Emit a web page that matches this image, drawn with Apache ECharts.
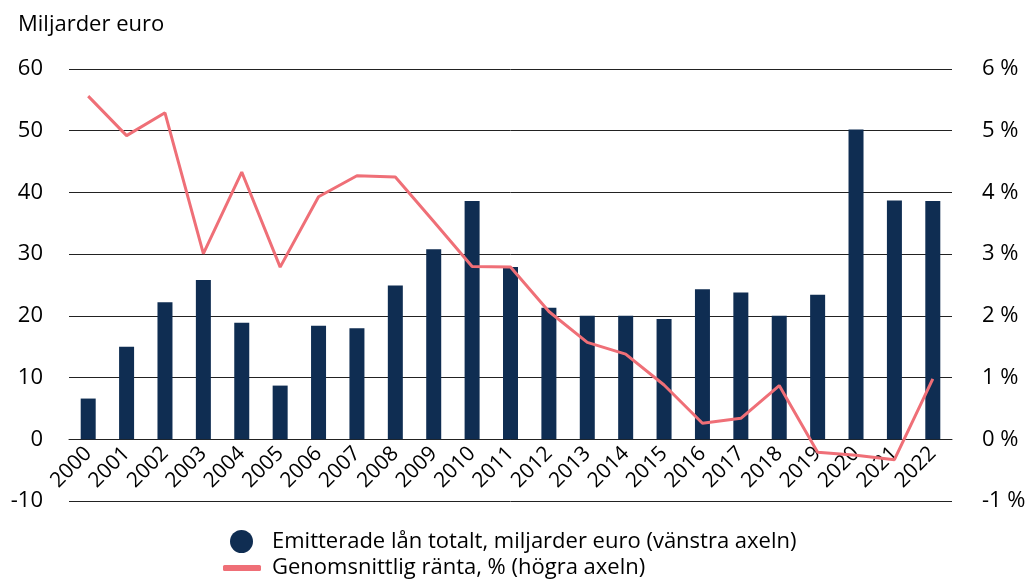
<!DOCTYPE html>
<html lang="sv">
<head>
    <meta charset="UTF-8">
    <title>Emitterade lån</title>
    <script src="https://cdn.jsdelivr.net/npm/echarts@6/dist/echarts.min.js"></script>
    <style>
        html, body { margin: 0; padding: 0; background: #fff; }
        #chart { width: 1025px; height: 581px; }
    </style>
</head>
<body>
    <div id="chart"></div>
<script type="text/javascript">
    // år
    var years = ['2000', '2001', '2002', '2003', '2004', '2005', '2006', '2007', '2008', '2009', '2010', '2011',
        '2012', '2013', '2014', '2015', '2016', '2017', '2018', '2019', '2020', '2021', '2022'];
    // emitterade lån, miljarder euro (vänster axel)
    var loans = [6.6, 15.0, 22.2, 25.8, 18.9, 8.7, 18.4, 18.0, 24.9, 30.8, 38.6, 27.9,
        21.3, 20.0, 20.0, 19.5, 24.3, 23.8, 20.0, 23.4, 50.2, 38.7, 38.6];
    // genomsnittlig ränta, % (höger axel)
    var rate = [5.56, 4.92, 5.29, 3.01, 4.33, 2.79, 3.93, 4.27, 4.25, 3.53, 2.80, 2.79,
        2.07, 1.57, 1.38, 0.88, 0.26, 0.34, 0.87, -0.21, -0.26, -0.33, 0.98];

    var barName = 'Emitterade lån totalt, miljarder euro (vänstra axeln)';
    var lineName = 'Genomsnittlig ränta, % (högra axeln)';
    var font = '"Open Sans", "Noto Sans", sans-serif';

    var chart = echarts.init(document.getElementById('chart'));

    // grid: top 69, bottom 80 -> 432px for 70 units; x-axis sits at 0, 10 units above the bottom
    var gridTop = 69, gridBottom = 80;
    var zeroShift = (581 - gridTop - gridBottom) / 7;

    var option = {
        animation: false,
        textStyle: { fontFamily: font, color: '#000' },
        title: {
            text: 'Miljarder euro',
            left: 13,
            top: 9,
            textStyle: { fontFamily: font, fontSize: 22, fontWeight: 'normal', color: '#000' }
        },
        legend: [
            {
                data: [{ name: barName, icon: 'circle' }],
                orient: 'vertical',
                left: 225,
                top: 525,
                itemWidth: 23,
                itemHeight: 23,
                textStyle: { fontFamily: font, fontSize: 22, color: '#000', padding: [0, 0, 0, 14] }
            },
            {
                data: [{ name: lineName, icon: 'roundRect' }],
                orient: 'vertical',
                left: 218,
                top: 552,
                itemWidth: 38,
                itemHeight: 6,
                textStyle: { fontFamily: font, fontSize: 22, color: '#000', padding: [0, 0, 0, 6] }
            }
        ],
        grid: {
            left: 69,
            right: 73,
            top: gridTop,
            bottom: gridBottom,
            outerBoundsMode: 'none'
        },
        xAxis: {
            type: 'category',
            data: years,
            offset: -zeroShift,
            axisLine: { onZero: false, lineStyle: { color: '#222', width: 1 } },
            axisTick: { show: false },
            axisLabel: {
                rotate: 45,
                interval: 0,
                margin: 11,
                padding: [12, 0, 0, 0],
                backgroundColor: 'rgba(255,255,255,0)',
                fontFamily: font,
                fontSize: 21,
                color: '#000'
            }
        },
        yAxis: [
            {
                type: 'value',
                min: -10,
                max: 60,
                interval: 10,
                axisLine: { show: false },
                axisTick: { show: false },
                splitLine: { lineStyle: { color: '#222', width: 1 } },
                axisLabel: { fontFamily: font, fontSize: 22, color: '#000', margin: 26 }
            },
            {
                type: 'value',
                min: -1,
                max: 6,
                interval: 1,
                position: 'right',
                axisLine: { show: false },
                axisTick: { show: false },
                splitLine: { show: false },
                axisLabel: {
                    fontFamily: font,
                    fontSize: 22,
                    color: '#000',
                    margin: 30,
                    formatter: '{value} %'
                }
            }
        ],
        series: [
            {
                name: barName,
                type: 'bar',
                data: loans,
                barWidth: 15,
                yAxisIndex: 0,
                itemStyle: { color: '#0f2d52' }
            },
            {
                name: lineName,
                type: 'line',
                data: rate,
                yAxisIndex: 1,
                symbol: 'none',
                lineStyle: { color: '#ef6f77', width: 3 },
                itemStyle: { color: '#ef6f77' }
            }
        ]
    };

    chart.setOption(option);
</script>
</body>
</html>
